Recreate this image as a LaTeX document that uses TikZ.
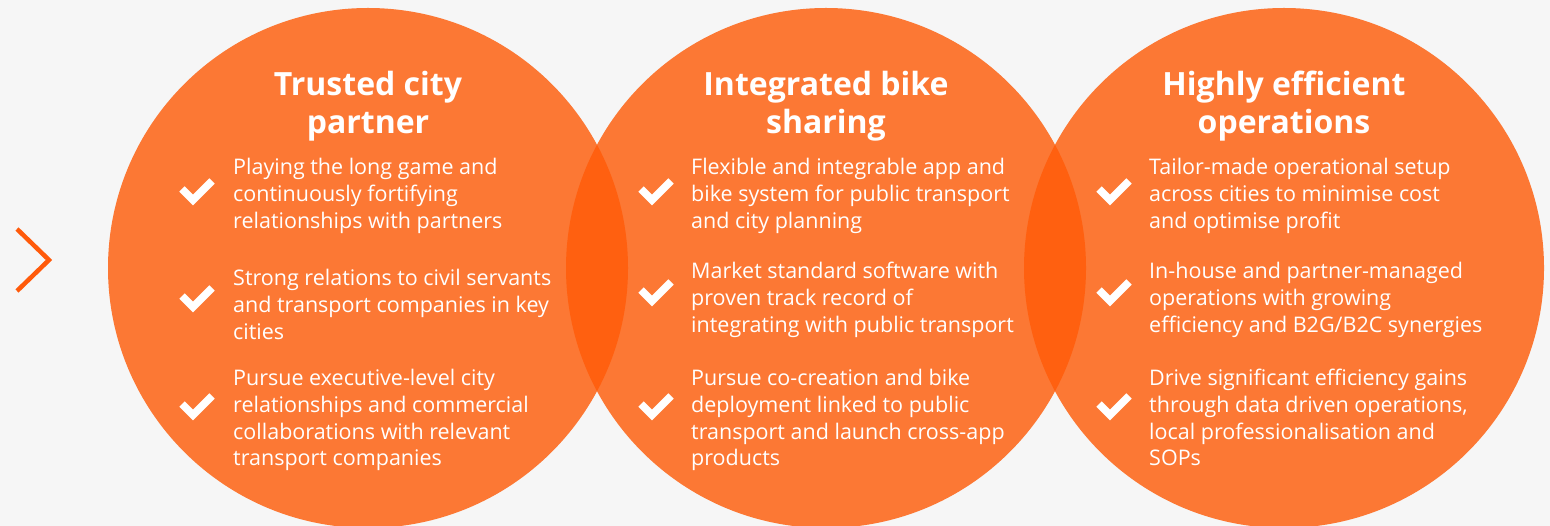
\documentclass[tikz,border=0pt]{standalone}
\usepackage{fontspec}
\setmainfont{Open Sans}
\usetikzlibrary{calc}
\definecolor{bgcol}{HTML}{F6F6F6}
\definecolor{orangecol}{HTML}{FC7834}
\definecolor{lenscol}{HTML}{FF6010}
\definecolor{chevcol}{HTML}{FF5A0A}
\begin{document}
\begin{tikzpicture}[x=1pt,y=-1pt,
  bubble/.style={circle, minimum size=520pt, inner sep=0pt, fill=orangecol},
  headline/.style={anchor=base, inner sep=0pt, text=white,
    font=\fontsize{32}{37.5}\selectfont\bfseries},
  bodytext/.style={anchor=base west, inner sep=0pt, text=white,
    font=\fontsize{21.5}{26.6}\selectfont},
  tick/.style={draw=white, line width=7.5pt, miter limit=10, line cap=butt},
]
\newcommand{\headbox}[1]{\parbox[t]{360pt}{\centering #1}}
\newcommand{\itembox}[1]{\parbox[t]{400pt}{\raggedright #1}}
\newcommand{\tickmark}[1]{\draw[tick] ($(#1)+(-14,-1)$) -- ++(11,11) -- ++(19,-19);}

% canvas
\useasboundingbox (0,0) rectangle (1550,526);
\fill[bgcol] (0,0) rectangle (1550,526);
\clip (0,0) rectangle (1550,526);

% left chevron
\draw[chevcol, line width=4.5pt, line join=miter] (17,229) -- (49,260) -- (17,291);

% three bubbles
\node[bubble] (b1) at (368,268) {};
\node[bubble] (b2) at (826,268) {};
\node[bubble] (b3) at (1284,268) {};

% overlaps
\begin{scope}
  \clip (b1.center) circle (260);
  \fill[lenscol] (b2.center) circle (260);
\end{scope}
\begin{scope}
  \clip (b2.center) circle (260);
  \fill[lenscol] (b3.center) circle (260);
\end{scope}

% headings
\node[headline] (h1) at (368,96) {\headbox{Trusted city\\partner}};
\node[headline] (h2) at (826,96) {\headbox{Integrated bike\\sharing}};
\node[headline] (h3) at (1284,96) {\headbox{Highly efficient\\operations}};

% ---- first bubble
\coordinate (k11) at (196,190);
\coordinate (k12) at (196,297);
\coordinate (k13) at (196,405);
\tickmark{k11}\tickmark{k12}\tickmark{k13}
\node[bodytext] (t11) at (233,175) {\itembox{Playing the long game and\\continuously fortifying\\relationships with partners}};
\node[bodytext] (t12) at (233,286) {\itembox{Strong relations to civil servants\\and transport companies in key\\cities}};
\node[bodytext] (t13) at (233,386) {\itembox{Pursue executive-level city\\relationships and commercial\\collaborations with relevant\\transport companies}};

% ---- second bubble
\coordinate (k21) at (655,190);
\coordinate (k22) at (655,291);
\coordinate (k23) at (655,405);
\tickmark{k21}\tickmark{k22}\tickmark{k23}
\node[bodytext] (t21) at (691,175) {\itembox{Flexible and integrable app and\\bike system for public transport\\and city planning}};
\node[bodytext] (t22) at (691,279) {\itembox{Market standard software with\\proven track record of\\integrating with public transport}};
\node[bodytext] (t23) at (691,386) {\itembox{Pursue co-creation and bike\\deployment linked to public\\transport and launch cross-app\\products}};

% ---- third bubble
\coordinate (k31) at (1113,190);
\coordinate (k32) at (1113,291);
\coordinate (k33) at (1113,405);
\tickmark{k31}\tickmark{k32}\tickmark{k33}
\node[bodytext] (t31) at (1149,175) {\itembox{Tailor-made operational setup\\across cities to minimise cost\\and optimise profit}};
\node[bodytext] (t32) at (1149,279) {\itembox{In-house and partner-managed\\operations with growing\\efficiency and B2G/B2C synergies}};
\node[bodytext] (t33) at (1149,386) {\itembox{Drive significant efficiency gains\\through data driven operations,\\local professionalisation and\\SOPs}};
\end{tikzpicture}
\end{document}
